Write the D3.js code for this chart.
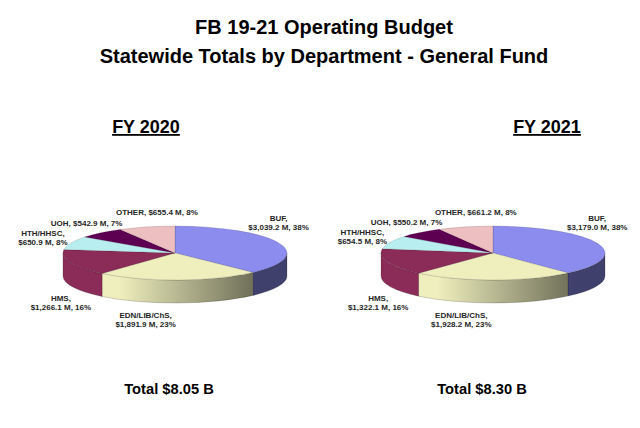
<!DOCTYPE html>
<html>
<head>
<meta charset="utf-8">
<script src="https://cdn.jsdelivr.net/npm/d3@7"></script>
<style>
  body { margin: 0; background: #fff; }
  svg { display: block; font-family: "Liberation Sans", Arial, sans-serif; }
  .lbl { font-size: 8px; font-weight: bold; fill: #262626; }
</style>
</head>
<body>
<div id="chart"></div>
<script>
// departments, clockwise from 12 o'clock
var departments = ["BUF", "EDN/LIB/ChS", "HMS", "HTH/HHSC", "UOH", "OTHER"];
var colors = ["#8c8cee", "#efefbe", "#8b2b57", "#b8eef0", "#5e0052", "#edbfc0"];

// general fund, $ millions
var fy2020 = [3039.2, 1891.9, 1266.1, 650.9, 542.9, 655.4];
var fy2021 = [3179.0, 1928.2, 1322.1, 654.5, 550.2, 661.2];
// percentages as printed on the chart
var pct2020 = [38, 23, 16, 8, 7, 8];
var pct2021 = [38, 23, 16, 8, 7, 8];

var years = ["FY 2020", "FY 2021"];

var width = 640, height = 428;
var rx = 112, ry = 27, h = 23;

var svg = d3.select("#chart").append("svg")
  .attr("width", width).attr("height", height);
var defs = svg.append("defs");

// titles
svg.append("text").attr("x", 324).attr("y", 34).attr("text-anchor", "middle")
  .style("font-size", "20px").style("font-weight", "bold")
  .text("FB 19-21 Operating Budget");
svg.append("text").attr("x", 324).attr("y", 63).attr("text-anchor", "middle")
  .style("font-size", "20px").style("font-weight", "bold")
  .text("Statewide Totals by Department - General Fund");

var fmt = d3.format(",.1f");

function px(a) { return rx * Math.sin(a); }
function py(a) { return -ry * Math.cos(a); }

function topPath(d) {
  var large = d.endAngle - d.startAngle > Math.PI ? 1 : 0;
  return ["M", 0, 0, "L", px(d.startAngle), py(d.startAngle),
    "A", rx, ry, 0, large, 1, px(d.endAngle), py(d.endAngle), "Z"].join(" ");
}

// front wall, only the part between 3 and 9 o'clock is visible
function wallPath(d) {
  var s = Math.max(d.startAngle, Math.PI / 2),
    e = Math.min(d.endAngle, 3 * Math.PI / 2);
  if (e <= s) return null;
  return ["M", px(s), py(s), "A", rx, ry, 0, 0, 1, px(e), py(e),
    "L", px(e), py(e) + h, "A", rx, ry, 0, 0, 0, px(s), py(s) + h, "Z"].join(" ");
}

// label centre from the slice mid angle (rough "best fit" placement)
function labelPos(m) {
  var s = Math.sin(m), c = Math.cos(m);
  if (c > 0) {
    return [(rx + 15) * s - 16 * Math.abs(s) + 25 * (1 - Math.abs(s)) * c,
      -11 - 33 * c - 8 * s];
  }
  return [88 * s - 32, 40 - 27 * c];
}

function drawPie(cx, cy, values, pcts, year, headX, totalX, idx) {
  var arcs = d3.pie().sort(null).value(function (d) { return d; })(values);

  arcs.forEach(function (d, i) {
    var base = d3.rgb(colors[i]);
    var g = defs.append("linearGradient")
      .attr("id", "wall" + idx + "_" + i)
      .attr("gradientUnits", "userSpaceOnUse")
      .attr("x1", -rx * 0.5).attr("x2", rx * 0.72).attr("y1", 0).attr("y2", 0);
    g.append("stop").attr("offset", 0).attr("stop-color", base.formatHex());
    g.append("stop").attr("offset", 1).attr("stop-color", base.darker(2.2).formatHex());
  });

  var slices = svg.append("g").attr("transform", "translate(" + cx + "," + cy + ")");

  slices.selectAll(".wall").data(arcs.filter(function (d) { return wallPath(d); }))
    .enter().append("path")
    .attr("class", "wall")
    .attr("d", wallPath)
    .style("fill", function (d) { return "url(#wall" + idx + "_" + d.index + ")"; })
    .style("stroke", "rgba(0,0,0,0.35)")
    .style("stroke-width", 0.5);

  slices.selectAll(".top").data(arcs).enter().append("path")
    .attr("class", "top")
    .attr("d", topPath)
    .style("fill", function (d) { return colors[d.index]; })
    .style("stroke", "rgba(0,0,0,0.3)")
    .style("stroke-width", 0.4);

  // data labels
  slices.selectAll(".lbl").data(arcs).enter().append("text")
    .attr("class", "lbl")
    .attr("text-anchor", "middle")
    .each(function (d) {
      var m = (d.startAngle + d.endAngle) / 2;
      var p = labelPos(m);
      var name = departments[d.index],
        rest = "$" + fmt(values[d.index]) + " M, " + pcts[d.index] + "%";
      var lines = Math.cos(m) > 0.7 ? [name + ", " + rest] : [name + ",", rest];
      var t = d3.select(this);
      lines.forEach(function (s, k) {
        t.append("tspan").attr("x", p[0])
          .attr("y", p[1] + 3 + (k - (lines.length - 1) / 2) * 9)
          .text(s);
      });
    });

  // year heading and total
  svg.append("text").attr("x", headX).attr("y", 133).attr("text-anchor", "middle")
    .style("font-size", "18px").style("font-weight", "bold")
    .style("text-decoration", "underline")
    .text(year);
  svg.append("text").attr("x", totalX).attr("y", 394).attr("text-anchor", "middle")
    .style("font-size", "14.7px").style("font-weight", "bold")
    .text("Total $" + (d3.sum(values) / 1000).toFixed(2) + " B");
}

drawPie(175, 253, fy2020, pct2020, years[0], 146, 169, 0);
drawPie(493, 253, fy2021, pct2021, years[1], 547, 482, 1);
</script>
</body>
</html>
